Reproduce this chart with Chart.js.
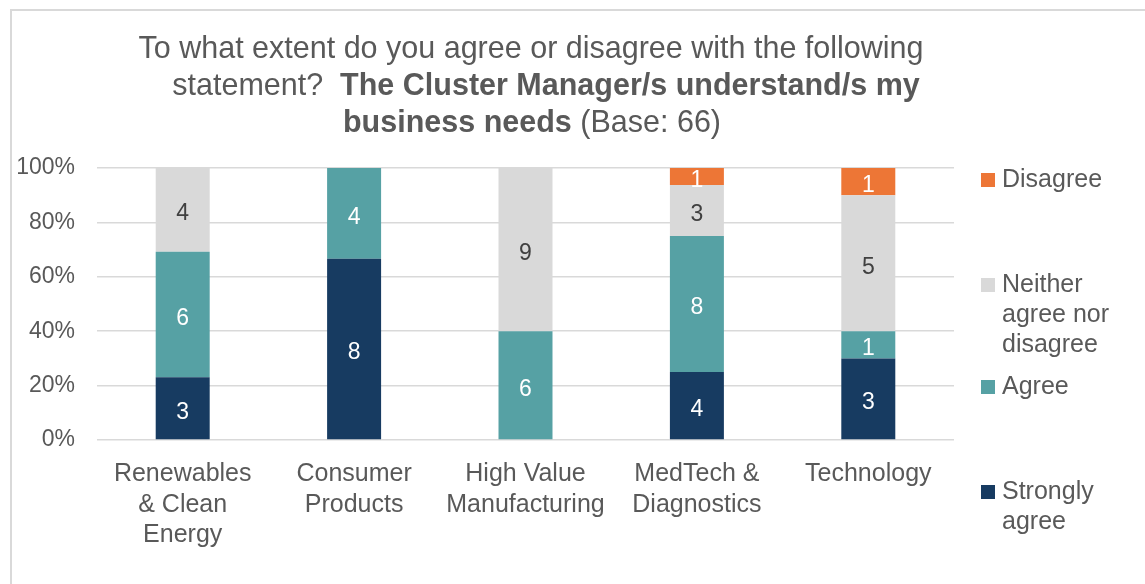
<!DOCTYPE html>
<html>
<head>
<meta charset="utf-8">
<script src="https://cdn.jsdelivr.net/npm/chart.js@4.4.1/dist/chart.umd.min.js"></script>
<style>
  html, body { margin: 0; padding: 0; background: #fff; overflow: hidden; }
  #frame { position: absolute; left: 10px; top: 9px; width: 1200px; height: 700px; border: 2px solid #d9d9d9; }
  #wrap { position: absolute; left: 0; top: 0; width: 1145px; height: 584px; }
</style>
</head>
<body>
<div id="frame"></div>
<div id="wrap"><canvas id="chart"></canvas></div>
<script>
// Survey responses per cluster (counts of respondents)
const sectors = [['Renewables', '& Clean', 'Energy'], ['Consumer', 'Products'], ['High Value', 'Manufacturing'], ['MedTech &', 'Diagnostics'], ['Technology']];
const stronglyAgree = [3, 8, 0, 4, 3];
const agree = [6, 4, 6, 8, 1];
const neither = [4, 0, 9, 3, 5];
const disagree = [0, 0, 0, 1, 1];
const yTicks = [0, 20, 40, 60, 80, 100];

const FONT = "'Liberation Sans', Arial, sans-serif";
const TEXT = '#595959';

const totals = sectors.map((_, i) => stronglyAgree[i] + agree[i] + neither[i] + disagree[i]);
const share = arr => arr.map((v, i) => v / totals[i] * 100);

const series = [
  { label: 'Strongly agree', lines: ['Strongly', 'agree'], counts: stronglyAgree, color: '#173B61', labelColor: '#ffffff', legendY: 492 },
  { label: 'Agree', lines: ['Agree'], counts: agree, color: '#56A1A4', labelColor: '#ffffff', legendY: 387 },
  { label: 'Neither agree nor disagree', lines: ['Neither', 'agree nor', 'disagree'], counts: neither, color: '#D9D9D9', labelColor: '#404040', legendY: 285 },
  { label: 'Disagree', lines: ['Disagree'], counts: disagree, color: '#ED7636', labelColor: '#ffffff', legendY: 180 }
];

// Title with mixed regular / bold runs
const titleLines = [
  { cx: 531, y: 50, runs: [['To what extent do you agree or disagree with the following', false]] },
  { cx: 546, y: 87, runs: [['statement?  ', false], ['The Cluster Manager/s understand/s my', true]] },
  { cx: 532, y: 124, runs: [['business needs', true], [' (Base: 66)', false]] }
];
const TITLE_SIZE = 30.5;

const titlePlugin = {
  id: 'titleText',
  afterDraw(chart) {
    const ctx = chart.ctx;
    ctx.save();
    ctx.fillStyle = TEXT;
    ctx.textBaseline = 'middle';
    ctx.textAlign = 'left';
    const setFont = bold => { ctx.font = (bold ? 'bold ' : '') + TITLE_SIZE + 'px ' + FONT; };
    titleLines.forEach(line => {
      let w = 0;
      line.runs.forEach(([t, bold]) => { setFont(bold); w += ctx.measureText(t).width; });
      let x = line.cx - w / 2;
      line.runs.forEach(([t, bold]) => {
        setFont(bold);
        ctx.fillText(t, x, line.y);
        x += ctx.measureText(t).width;
      });
    });
    ctx.restore();
  }
};

// Respondent counts in the middle of each segment
const countLabels = {
  id: 'countLabels',
  afterDatasetsDraw(chart) {
    const ctx = chart.ctx;
    ctx.save();
    ctx.font = '23px ' + FONT;
    ctx.textAlign = 'center';
    ctx.textBaseline = 'middle';
    chart.data.datasets.forEach((ds, di) => {
      const s = series[di];
      chart.getDatasetMeta(di).data.forEach((bar, i) => {
        const n = s.counts[i];
        if (!n) return;
        ctx.fillStyle = s.labelColor;
        ctx.fillText(String(n), bar.x, (bar.y + bar.base) / 2 + 4);
      });
    });
    ctx.restore();
  }
};

// Legend on the right, top entry first
const sideLegend = {
  id: 'sideLegend',
  afterDraw(chart) {
    const ctx = chart.ctx;
    ctx.save();
    ctx.font = '25px ' + FONT;
    ctx.textBaseline = 'middle';
    ctx.textAlign = 'left';
    series.forEach(s => {
      ctx.fillStyle = s.color;
      ctx.fillRect(981, s.legendY - 7, 14, 14);
      ctx.fillStyle = TEXT;
      s.lines.forEach((t, k) => ctx.fillText(t, 1002, s.legendY + k * 30));
    });
    ctx.restore();
  }
};

new Chart(document.getElementById('chart'), {
  type: 'bar',
  data: {
    labels: sectors,
    datasets: series.map(s => ({
      label: s.label,
      data: share(s.counts),
      backgroundColor: s.color,
      borderWidth: 0,
      categoryPercentage: 1,
      barPercentage: 0.315
    }))
  },
  options: {
    responsive: true,
    maintainAspectRatio: false,
    animation: false,
    layout: { padding: { top: 168, right: 191, bottom: 0, left: 0 } },
    plugins: {
      legend: { display: false },
      title: { display: false },
      tooltip: { enabled: false }
    },
    scales: {
      x: {
        stacked: true,
        grid: { display: false },
        border: { display: false },
        ticks: {
          color: TEXT,
          font: { family: FONT, size: 25, lineHeight: 1.22 },
          padding: 11,
          maxRotation: 0,
          autoSkip: false
        },
        afterFit(scale) { scale.height = 144; }
      },
      y: {
        stacked: true,
        min: 0,
        max: 100,
        afterBuildTicks(scale) { scale.ticks = yTicks.map(v => ({ value: v })); },
        grid: { color: '#d9d9d9', lineWidth: 1.5, drawTicks: false },
        border: { display: false },
        ticks: {
          color: TEXT,
          font: { family: FONT, size: 23 },
          padding: 22,
          callback: v => v + '%'
        },
        afterFit(scale) { scale.width = 97; }
      }
    }
  },
  plugins: [titlePlugin, countLabels, sideLegend]
});
</script>
</body>
</html>
